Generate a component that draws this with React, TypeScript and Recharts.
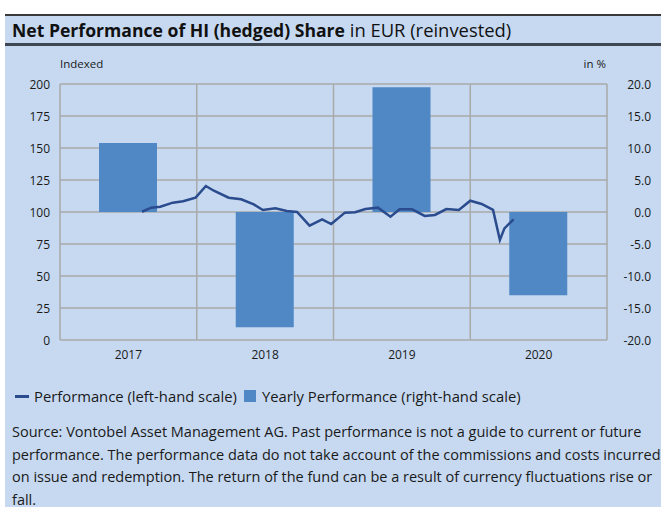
import React from 'react';
import { ComposedChart, Bar, Line, XAxis, YAxis, CartesianGrid } from 'recharts';

const years = ['2017', '2018', '2019', '2020'];
const yearlyPerformance = [10.8, -18.0, 19.5, -13.0];

// months since start of 2017
const perfMonths = [7.2, 8, 8.8, 9.9, 10.8, 11.9, 12.8, 13.5, 14.8, 15.9, 17, 17.8, 18.9, 19.9, 20.8, 21.9, 23, 23.8, 25, 25.9, 26.8, 27.9, 29, 29.8, 30.9, 32, 32.9, 33.9, 35, 36, 37, 38, 38.6, 39, 39.8];
const perfValues = [100.2, 103.4, 104.1, 107.3, 108.4, 111.2, 120.3, 116.6, 111.2, 109.9, 106.0, 101.6, 102.9, 100.8, 100.0, 89.3, 94.3, 90.6, 99.5, 99.8, 102.3, 103.4, 96.3, 102.1, 102.1, 96.9, 97.7, 102.3, 101.6, 108.8, 106.3, 101.6, 78.1, 87.2, 94.3];

const leftTicks = [0, 25, 50, 75, 100, 125, 150, 175, 200];
const rightTicks = [-20, -15, -10, -5, 0, 5, 10, 15, 20];
const monthTicks = [0, 12, 24, 36, 48];

const sourceLines = [
  'Source: Vontobel Asset Management AG. Past performance is not a guide to current or future',
  'performance. The performance data do not take account of the commissions and costs incurred',
  'on issue and redemption. The return of the fund can be a result of currency fluctuations rise or',
  'fall.',
];

const barData = years.map((year, i) => ({ year, yearly: yearlyPerformance[i] }));
const lineData = perfMonths.map((t, i) => ({ t, v: perfValues[i] }));

const FONT = '"Open Sans", sans-serif';
const BG = '#c6d9f1';
const BAR = '#4f88c4';
const LINE = '#2a4b8d';
const GRID = '#a9a9a9';

const LeftTick = (props: any) => (
  <text x={props.x} y={props.y} textAnchor="end" dominantBaseline="central" fontFamily={FONT} fontSize={12} fill="#1a1a1a">
    {props.payload.value}
  </text>
);
const RightTick = (props: any) => (
  <text x={props.x} y={props.y} textAnchor="end" dominantBaseline="central" fontFamily={FONT} fontSize={12} fill="#1a1a1a">
    {Number(props.payload.value).toFixed(1)}
  </text>
);
const XTick = (props: any) => (
  <text x={props.x} y={props.y} dy="0.71em" textAnchor="middle" fontFamily={FONT} fontSize={12} fill="#1a1a1a">
    {props.payload.value}
  </text>
);

export default function App() {
  return (
    <div style={{ position: 'absolute', left: 0, top: 0, width: 661, height: 507, background: '#fff', overflow: 'hidden', fontFamily: FONT }}>
      <div style={{ position: 'absolute', left: 5, top: 14, width: 656, height: 493, background: BG }} />
      <div style={{ position: 'absolute', left: 5, top: 14, width: 656, height: 2, background: '#3a3a3a' }} />
      <div style={{ position: 'absolute', left: 5, top: 43, width: 656, height: 3, background: '#3d4651' }} />
      <div style={{ position: 'absolute', left: 12, top: 18, color: '#111', whiteSpace: 'nowrap', lineHeight: '24px' }}>
        <span style={{ fontWeight: 700, fontSize: 17.6 }}>Net Performance of HI (hedged) Share</span>
        <span style={{ fontSize: 18.4 }}> in EUR (reinvested)</span>
      </div>
      <div style={{ position: 'absolute', left: 60, top: 56, fontSize: 11.5, color: '#1a1a1a', lineHeight: '16px' }}>Indexed</div>
      <div style={{ position: 'absolute', left: 556, width: 50, textAlign: 'right', top: 56, fontSize: 11.5, color: '#1a1a1a', lineHeight: '16px' }}>in %</div>
      <div style={{ position: 'absolute', left: 0, top: 0 }}>
        <ComposedChart width={661} height={380} data={barData} margin={{ top: 84, right: 10, bottom: 10, left: 10 }}>
          <CartesianGrid xAxisId="t" yAxisId="left" stroke={GRID} strokeWidth={1.5} />
          <XAxis xAxisId="cat" dataKey="year" type="category" height={30} axisLine={false} tickLine={false} tickSize={0} tickMargin={10} tick={<XTick />} />
          <XAxis xAxisId="t" dataKey="t" type="number" domain={[0, 48]} ticks={monthTicks} hide />
          <YAxis yAxisId="left" orientation="left" width={50} domain={[0, 200]} ticks={leftTicks} axisLine={false} tickLine={false} tickSize={0} tickMargin={10} tick={<LeftTick />} interval={0} />
          <YAxis yAxisId="right" orientation="right" width={44} domain={[-20, 20]} ticks={rightTicks} axisLine={false} tickLine={false} tickSize={0} tickMargin={44} tick={<RightTick />} interval={0} />
          <Bar xAxisId="cat" yAxisId="right" dataKey="yearly" fill={BAR} barSize={58} isAnimationActive={false} />
          <Line xAxisId="t" yAxisId="left" data={lineData} dataKey="v" stroke={LINE} strokeWidth={2.5} dot={false} activeDot={false} type="linear" isAnimationActive={false} />
        </ComposedChart>
      </div>
      <div style={{ position: 'absolute', left: 15, top: 395, width: 14, height: 3, background: LINE }} />
      <div style={{ position: 'absolute', left: 34, top: 386, fontSize: 14.8, lineHeight: '20px', color: '#1a1a1a', whiteSpace: 'nowrap' }}>Performance (left-hand scale)</div>
      <div style={{ position: 'absolute', left: 244, top: 390, width: 12, height: 12, background: BAR }} />
      <div style={{ position: 'absolute', left: 262, top: 386, fontSize: 14.8, lineHeight: '20px', color: '#1a1a1a', whiteSpace: 'nowrap' }}>Yearly Performance (right-hand scale)</div>
      <div style={{ position: 'absolute', left: 12, top: 421, fontSize: 14.5, color: '#1a1a1a', whiteSpace: 'nowrap' }}>
        {sourceLines.map((line) => (
          <div key={line} style={{ height: 22.5, lineHeight: '12px', paddingTop: 5, boxSizing: 'border-box' }}>{line}</div>
        ))}
      </div>
    </div>
  );
}
